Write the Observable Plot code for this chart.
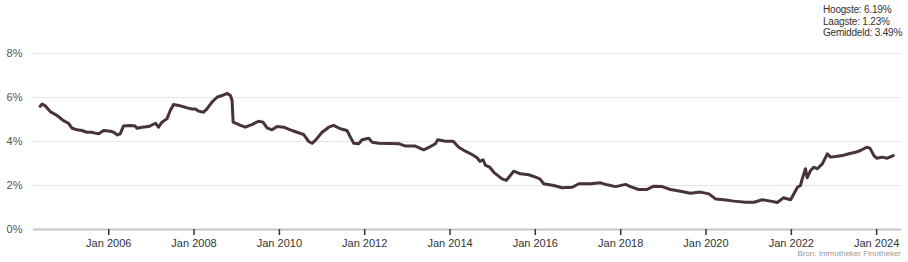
<!DOCTYPE html>
<html>
<head>
<meta charset="utf-8">
<script src="https://cdn.jsdelivr.net/npm/d3@7"></script>
<script src="https://cdn.jsdelivr.net/npm/@observablehq/plot@0.6"></script>
<style>
  html, body { margin: 0; padding: 0; background: #fff; }
  #wrap { position: relative; width: 908px; height: 262px; font-family: "Liberation Sans", Arial, sans-serif; }
  #stats { position: absolute; left: 823px; top: 4px; font-size: 10px; letter-spacing: -0.2px; line-height: 11.6px; color: #333; white-space: nowrap; }
  #source { position: absolute; right: 7px; top: 249px; font-size: 8px; color: #999; white-space: nowrap; }
</style>
</head>
<body>
<div id="wrap">
  <div id="chart"></div>
  <div id="stats">Hoogste: 6.19%<br>Laagste: 1.23%<br>Gemiddeld: 3.49%</div>
  <div id="source">Bron: Immotheker Finotheker</div>
</div>
<script>
const dates = [
  "2004-05-24","2004-06-10","2004-07-06","2004-08-18","2004-10-16","2004-12-09",
  "2005-01-21","2005-02-22","2005-04-04","2005-05-16","2005-06-28","2005-08-10","2005-09-08","2005-10-07","2005-11-19",
  "2006-01-15","2006-02-13","2006-03-17","2006-04-09","2006-05-07","2006-07-04","2006-08-16","2006-08-31","2006-10-13","2006-12-09",
  "2007-02-05","2007-03-03","2007-04-02","2007-05-14","2007-06-12","2007-07-10","2007-08-22","2007-10-18","2007-11-03","2007-12-15",
  "2008-01-13","2008-02-10","2008-03-23","2008-04-21","2008-06-03","2008-07-16","2008-08-28","2008-10-10","2008-11-08","2008-11-22","2008-12-01",
  "2009-01-05","2009-02-02","2009-03-15","2009-05-11","2009-07-07","2009-08-14","2009-09-17","2009-10-30","2009-12-12",
  "2010-02-08","2010-04-04","2010-06-01","2010-07-27","2010-09-09","2010-10-08","2010-11-05",
  "2011-01-02","2011-02-28","2011-04-10","2011-06-06","2011-08-03","2011-09-01","2011-09-29","2011-11-11","2011-12-10",
  "2012-02-05","2012-03-04","2012-05-01","2012-10-19","2012-12-16",
  "2013-03-10","2013-05-20","2013-07-17","2013-08-29","2013-09-18","2013-11-23",
  "2014-01-28","2014-03-16","2014-05-12","2014-07-08","2014-08-21","2014-09-13","2014-10-11","2014-11-01","2014-12-07",
  "2015-01-11","2015-03-22","2015-04-28","2015-06-30","2015-08-26","2015-11-06",
  "2016-01-03","2016-02-09","2016-03-13","2016-06-07","2016-08-18","2016-11-12",
  "2017-01-08","2017-04-17","2017-07-12","2017-09-08","2017-11-18",
  "2018-02-12","2018-03-25","2018-06-04","2018-08-16","2018-10-11","2018-12-22",
  "2019-03-03","2019-05-27","2019-08-21","2019-11-16",
  "2020-01-26","2020-03-23","2020-06-02","2020-08-27","2020-12-06",
  "2021-02-15","2021-04-27","2021-07-07","2021-09-03","2021-10-24","2021-12-26",
  "2022-02-07","2022-02-22","2022-03-20","2022-04-04","2022-05-02","2022-05-16","2022-06-14","2022-07-12","2022-08-11","2022-09-23","2022-11-05","2022-12-03",
  "2023-01-15","2023-03-12","2023-05-08","2023-07-04","2023-08-16","2023-10-07","2023-11-05","2023-12-09",
  "2024-01-01","2024-02-19","2024-04-01","2024-05-22"
];
const rates = [
  5.60,5.70,5.62,5.36,5.18,4.95,
  4.83,4.60,4.53,4.50,4.42,4.42,4.38,4.35,4.50,
  4.47,4.42,4.30,4.35,4.70,4.73,4.70,4.60,4.65,4.68,
  4.83,4.65,4.88,5.03,5.41,5.68,5.64,5.56,5.53,5.48,
  5.48,5.38,5.33,5.48,5.79,6.01,6.09,6.19,6.09,5.86,4.88,
  4.80,4.73,4.65,4.77,4.92,4.88,4.62,4.53,4.68,
  4.65,4.53,4.42,4.32,4.00,3.92,4.05,
  4.42,4.65,4.73,4.58,4.50,4.20,3.92,3.90,4.08,
  4.15,3.97,3.92,3.90,3.79,
  3.79,3.62,3.77,3.90,4.08,4.01,
  4.01,3.74,3.56,3.41,3.26,3.10,3.17,2.91,2.83,
  2.60,2.30,2.23,2.65,2.53,2.49,
  2.38,2.30,2.08,2.00,1.90,1.92,
  2.08,2.08,2.12,2.03,1.95,
  2.05,1.95,1.82,1.82,1.97,1.95,
  1.82,1.74,1.65,1.70,
  1.62,1.39,1.35,1.29,1.24,
  1.24,1.35,1.29,1.23,1.44,1.35,
  1.77,1.92,2.00,2.30,2.76,2.35,2.68,2.83,2.76,2.98,3.44,3.29,
  3.32,3.36,3.44,3.51,3.59,3.74,3.70,3.36,
  3.24,3.29,3.24,3.36
];
const xTicks = ["2006-01-01","2008-01-01","2010-01-01","2012-01-01","2014-01-01","2016-01-01","2018-01-01","2020-01-01","2022-01-01","2024-01-01"];
const yTicks = [0, 2, 4, 6, 8];
const xDomain = ["2004-03-28", "2024-08-01"];

const data = dates.map((d, i) => ({date: new Date(d), rate: rates[i]}));

const chart = Plot.plot({
  width: 908,
  height: 262,
  marginTop: 53,
  marginBottom: 33,
  marginLeft: 33,
  marginRight: 7,
  style: {fontFamily: '"Liberation Sans", Arial, sans-serif', fontSize: "11px", background: "#fff"},
  x: {type: "utc", domain: xDomain.map(d => new Date(d))},
  y: {domain: [0, 8]},
  marks: [
    Plot.ruleY(yTicks.filter(d => d > 0), {stroke: "#e6e6e6", strokeWidth: 1}),
    Plot.ruleY([0], {stroke: "#c4c4c4", strokeWidth: 2}),
    Plot.axisX(xTicks.map(d => new Date(d)), {tickSize: 6, tickPadding: 4, stroke: "#333", strokeOpacity: 1, strokeWidth: 1.5, fill: "#333", tickFormat: d3.utcFormat("%b %Y"), label: null}),
    Plot.axisY(yTicks, {tickSize: 0, tickPadding: 11, fill: "#555", tickFormat: d => d + "%", label: null}),
    Plot.lineY(data, {x: "date", y: "rate", stroke: "#48323f", strokeWidth: 3, strokeLinejoin: "round"})
  ]
});
document.getElementById("chart").appendChild(chart);
</script>
</body>
</html>
